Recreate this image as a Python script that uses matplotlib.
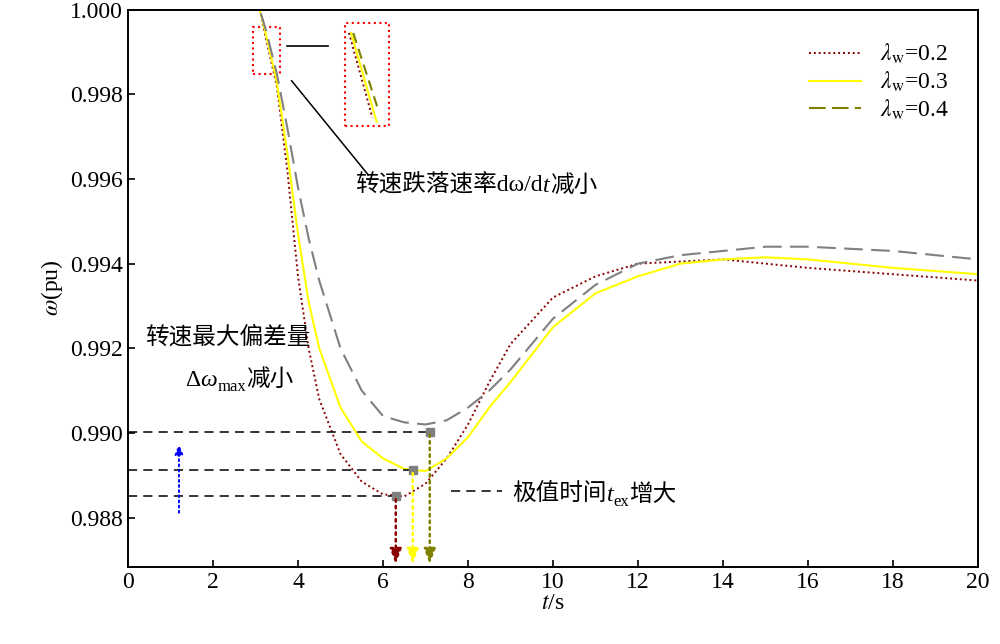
import matplotlib
matplotlib.use("Agg")
import matplotlib.pyplot as plt

plt.rcParams['font.family'] = ['Liberation Serif', 'Noto Sans CJK SC']
plt.rcParams['mathtext.fontset'] = 'stix'

t   = [0, 3.1, 3.25, 3.5, 3.75, 4, 4.25, 4.5, 5, 5.5, 6, 6.5, 7, 7.5, 8, 8.5, 9, 10, 11, 12, 13, 14, 15, 16, 18, 20]
w02 = [1.0, 1.0, 0.9993, 0.9982, 0.9962, 0.9937, 0.9920, 0.9908, 0.9895, 0.98885, 0.98855, 0.9885, 0.9888, 0.9894, 0.9902, 0.9912, 0.9921, 0.9932, 0.9937, 0.9940, 0.99405, 0.9941, 0.9940, 0.9939, 0.99375, 0.9936]
w03 = [1.0, 1.0, 0.9994, 0.9983, 0.9966, 0.9947, 0.9931, 0.9920, 0.9906, 0.9898, 0.9894, 0.98915, 0.9891, 0.9894, 0.9899, 0.9906, 0.9912, 0.9925, 0.9933, 0.9937, 0.9940, 0.9941, 0.99415, 0.9941, 0.9939, 0.99375]
w04 = [1.0, 1.0, 0.9995, 0.9985, 0.9972, 0.9958, 0.9946, 0.9936, 0.9920, 0.9910, 0.9904, 0.99025, 0.9902, 0.9903, 0.9906, 0.9910, 0.9915, 0.9927, 0.9935, 0.9940, 0.9942, 0.9943, 0.9944, 0.9944, 0.9943, 0.9941]
mins_t = [6.3, 6.7, 7.1]
mins_w = [0.98850, 0.98912, 0.99003]
labels = [r'$\lambda_{\rm w}$=0.2', r'$\lambda_{\rm w}$=0.3', r'$\lambda_{\rm w}$=0.4']
cols = ['#8b0000', '#ffff00', '#808000']

fig = plt.figure(figsize=(10, 6.44), dpi=100)
ax = fig.add_axes([0.128, 0.12, 0.85, 0.865])
ax.plot(t[1:], w02[1:], color=cols[0], ls=(0, (1, 1.5)), lw=1.4)
ax.plot(t[1:], w03[1:], color=cols[1], lw=1.5)
ax.plot(t, w04, color='gray', ls=(0, (9, 4)), lw=1.5)
ax.plot([], [], color=cols[0], ls=(0, (1, 1.5)), lw=1.4, label=labels[0])
ax.plot([], [], color=cols[1], lw=1.5, label=labels[1])
ax.plot([], [], color=cols[2], ls=(0, (8, 3)), lw=1.5, label=labels[2])

ymin = 0.98684
for mt, mw, c in zip(mins_t, mins_w, cols):
    ax.plot([0, mt], [mw, mw], color='k', ls=(0, (6, 4)), lw=1.1)
    ax.plot(mt, mw, 's', color='gray', ms=6)
    ax.annotate('', xy=(mt, ymin), xytext=(mt, mw),
                arrowprops=dict(arrowstyle='-|>,head_width=0.35,head_length=0.9', color=c, ls=':', lw=1.8))
ax.annotate('', xy=(1.2, 0.9898), xytext=(1.2, 0.98805),
            arrowprops=dict(arrowstyle='-|>,head_width=0.25,head_length=0.6', color='blue', ls=':', lw=1.4))

ax.add_patch(plt.Rectangle((2.93, 0.99848), 0.65, 0.0011, fill=False, ec='red', ls=':', lw=1.5))
ax.add_patch(plt.Rectangle((5.1, 0.99726), 1.05, 0.00242, fill=False, ec='red', ls=':', lw=1.5))
ax.plot([3.75, 4.7], [0.99915, 0.99915], color='k', lw=1.2)
ax.plot([3.85, 5.65], [0.99832, 0.99610], color='k', lw=1.1)
ax.plot([5.2, 5.75], [0.99945, 0.99745], color=cols[0], ls=(0, (1, 1.5)), lw=1.4)
ax.plot([5.25, 5.85], [0.99945, 0.99735], color=cols[1], lw=1.5)
ax.plot([5.3, 5.9], [0.99945, 0.99760], color=cols[2], ls=(0, (5, 3)), lw=1.5)

fs = 17
def chain(x, y, parts):
    prev = ax.text(x, y, parts[0][0], fontsize=parts[0][1], va='baseline')
    for s, f, dy in parts[1:]:
        prev = ax.annotate(s, xy=(1, 0), xycoords=prev, xytext=(0, dy), textcoords='offset points',
                           fontsize=f, va='baseline' if dy == 0 else 'bottom')
    return prev

a = ax.text(5.35, 0.99570, '转速跌落速率dω/d', fontsize=fs)
b = ax.annotate('t', xy=(1, 0), xycoords=a, fontsize=fs, style='italic', va='bottom')
ax.annotate('减小', xy=(1, 0), xycoords=b, fontsize=fs, va='bottom')

ax.text(0.4, 0.99210, '转速最大偏差量', fontsize=fs)
a = ax.text(1.35, 0.99112, 'Δ', fontsize=fs)
b = ax.annotate('ω', xy=(1, 0), xycoords=a, fontsize=fs, style='italic', va='bottom')
c = ax.annotate('max', xy=(1, 0), xycoords=b, xytext=(0, -3), textcoords='offset points', fontsize=12, va='bottom')
ax.annotate('减小', xy=(1, 0), xycoords=c, xytext=(0, 3), textcoords='offset points', fontsize=fs, va='bottom')

ax.plot([7.6, 8.8], [0.98863, 0.98863], color='k', ls=(0, (6, 4)), lw=1.1)
a = ax.text(9.05, 0.98840, '极值时间', fontsize=fs)
b = ax.annotate('t', xy=(1, 0), xycoords=a, fontsize=fs, style='italic', va='bottom')
c = ax.annotate('ex', xy=(1, 0), xycoords=b, xytext=(0, -3), textcoords='offset points', fontsize=12, va='bottom')
ax.annotate('增大', xy=(1, 0), xycoords=c, xytext=(0, 3), textcoords='offset points', fontsize=fs, va='bottom')

ax.set_xlim(0, 20)
ax.set_ylim(ymin, 1.0)
ax.set_xticks(range(0, 21, 2))
ax.set_yticks([0.988, 0.990, 0.992, 0.994, 0.996, 0.998, 1.000])
ax.set_yticklabels(['0.988', '0.990', '0.992', '0.994', '0.996', '0.998', '1.000'])
ax.tick_params(direction='in', labelsize=fs, length=5, width=1.2)
for s in ax.spines.values():
    s.set_linewidth(1.4)
ax.set_xlabel('$t$/s', fontsize=fs, labelpad=0)
ax.set_ylabel('$\\omega$(pu)', fontsize=fs, labelpad=4)
ax.legend(loc='upper right', bbox_to_anchor=(0.99, 0.98), frameon=False, fontsize=fs,
          handlelength=2.2, labelspacing=0.15)
fig.savefig('out.png', dpi=100)
